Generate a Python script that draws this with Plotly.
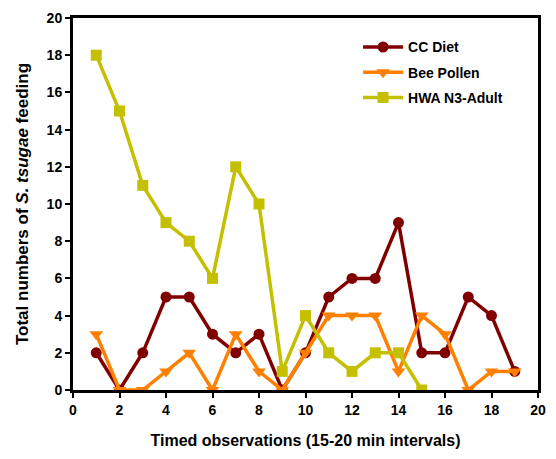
import plotly.graph_objects as go

obs = list(range(1, 20))
cc_diet = [2, 0, 2, 5, 5, 3, 2, 3, 0, 2, 5, 6, 6, 9, 2, 2, 5, 4, 1]
bee_pollen = [3, 0, 0, 1, 2, 0, 3, 1, 0, 2, 4, 4, 4, 1, 4, 3, 0, 1, 1]
hwa_x = list(range(1, 16))
hwa = [18, 15, 11, 9, 8, 6, 12, 10, 1, 4, 2, 1, 2, 2, 0]
ticks = list(range(0, 21, 2))

fig = go.Figure()
fig.add_trace(go.Scatter(x=obs, y=cc_diet, name="<b>CC Diet</b>", mode="lines+markers",
                         legendgroup="a",
                         line=dict(color="#800000", width=3.5),
                         marker=dict(symbol="circle", size=11, color="#800000")))
fig.add_trace(go.Scatter(x=obs, y=bee_pollen, name="<b>Bee Pollen</b>", mode="lines+markers",
                         legendgroup="b",
                         line=dict(color="#ff8000", width=3.5),
                         marker=dict(symbol="triangle-down", size=12, color="#ff8000")))
fig.add_trace(go.Scatter(x=hwa_x, y=hwa, name="<b>HWA N3-Adult</b>", mode="lines+markers",
                         legendgroup="c",
                         line=dict(color="#c4c000", width=3.5),
                         marker=dict(symbol="square", size=11, color="#c4c000")))

fig.update_layout(
    width=540, height=443,
    margin=dict(l=65, r=10, t=10, b=61),
    paper_bgcolor="white", plot_bgcolor="white",
    font=dict(family="Arial, Liberation Sans, sans-serif", color="black", size=14),
    showlegend=True,
    legend=dict(x=0.613, y=0.964, xanchor="left", yanchor="top",
                bgcolor="rgba(0,0,0,0)", font=dict(size=14, color="black"),
                itemwidth=40, tracegroupgap=4),
    xaxis=dict(range=[0, 20], tickvals=ticks,
               ticktext=["<b>%d</b>" % v for v in ticks],
               ticks="outside", ticklen=5, tickwidth=2, tickcolor="black",
               showline=True, linecolor="black", linewidth=3, mirror=True,
               showgrid=False, zeroline=False, automargin=False,
               tickfont=dict(size=14),
               title=dict(text="<b>Timed observations (15-20 min intervals)</b>",
                          font=dict(size=16), standoff=19)),
    yaxis=dict(range=[0, 20], tickvals=ticks,
               ticktext=["<b>%d</b>" % v for v in ticks],
               ticks="outside", ticklen=5, tickwidth=2, tickcolor="black",
               showline=True, linecolor="black", linewidth=3, mirror=True,
               showgrid=False, zeroline=False, automargin=False,
               tickfont=dict(size=14),
               title=dict(text="<b>Total numbers of <i>S. tsugae</i> feeding</b>",
                          font=dict(size=17), standoff=14)),
)
fig.write_html("out.html")
